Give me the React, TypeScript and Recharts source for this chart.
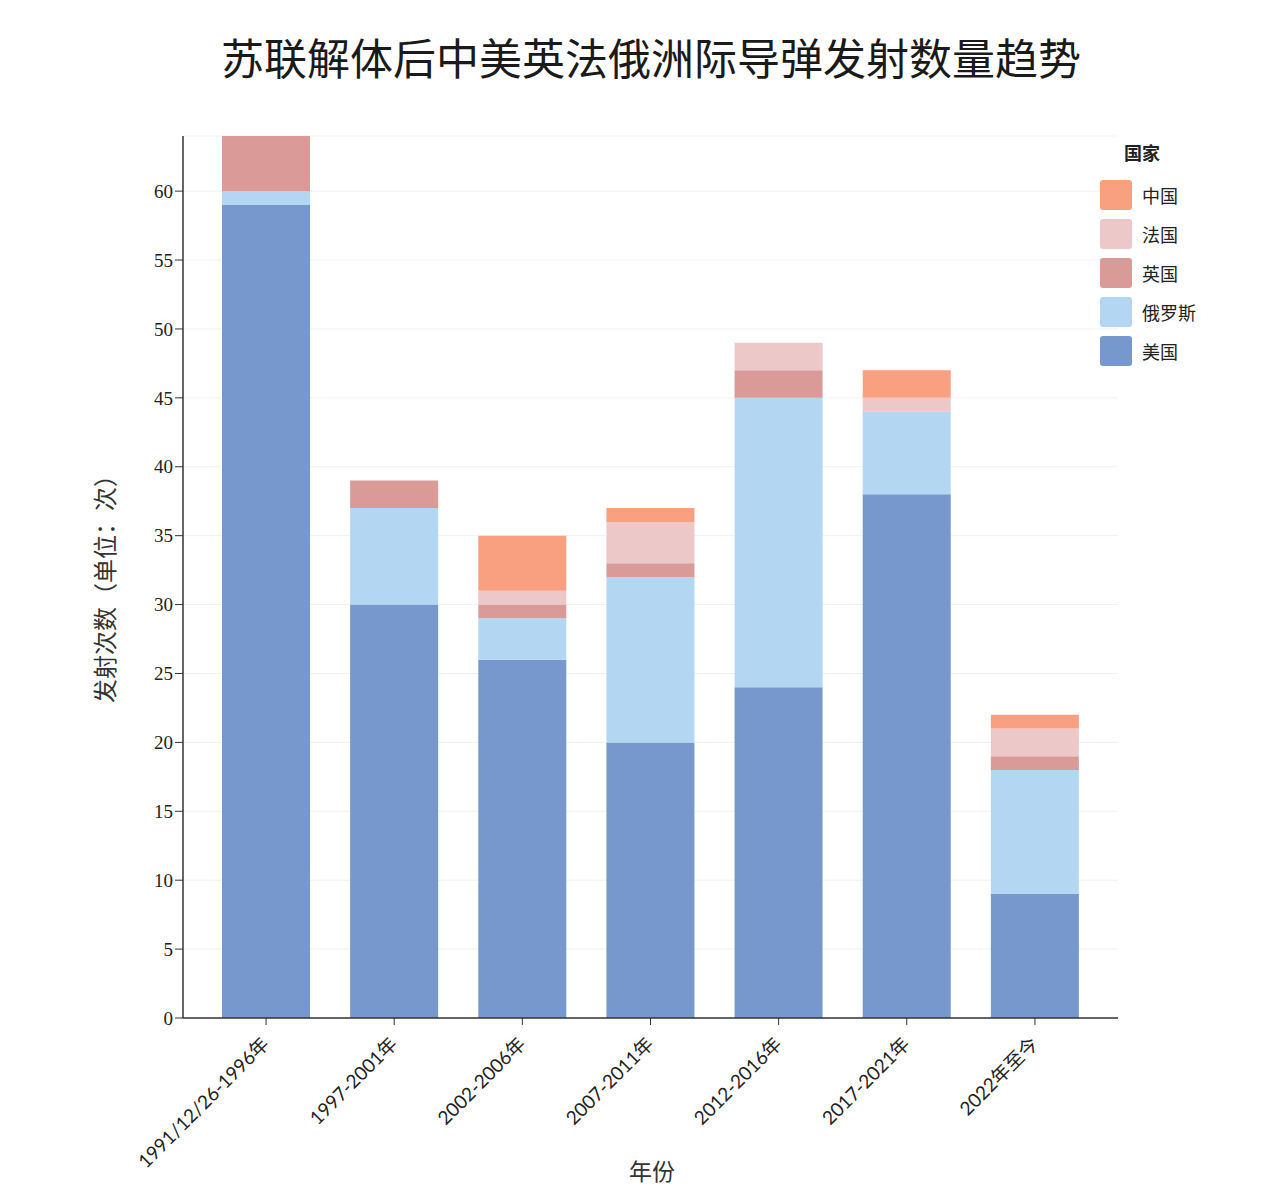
import React from "react";
import { Bar, BarChart, CartesianGrid, XAxis, YAxis } from "recharts";

// 各时期导弹发射次数
const periods = [
  "1991/12/26-1996年",
  "1997-2001年",
  "2002-2006年",
  "2007-2011年",
  "2012-2016年",
  "2017-2021年",
  "2022年至今",
];
const usa = [59, 30, 26, 20, 24, 38, 9];
const russia = [1, 7, 3, 12, 21, 6, 9];
const uk = [4, 2, 1, 1, 2, 0, 1];
const france = [0, 0, 1, 3, 2, 1, 2];
const china = [0, 0, 4, 1, 0, 2, 1];
const yTicks = [0, 5, 10, 15, 20, 25, 30, 35, 40, 45, 50, 55, 60];

const series = [
  { key: "美国", values: usa, color: "#7698cc" },
  { key: "俄罗斯", values: russia, color: "#b3d6f3" },
  { key: "英国", values: uk, color: "#d99a98" },
  { key: "法国", values: france, color: "#ecc8c8" },
  { key: "中国", values: china, color: "#f8a07f" },
];

const data = periods.map((name, i) => {
  const row: Record<string, any> = { name };
  series.forEach((s) => (row[s.key] = s.values[i]));
  return row;
});

const cjk = '"Noto Sans CJK SC", "Noto Sans", sans-serif';

function XTick(props: any) {
  const { x, y, payload } = props;
  return (
    <g transform={`translate(${x},${y + 14})`}>
      <text
        textAnchor="end"
        transform="rotate(-45)"
        fontSize={19}
        fill="#222"
        fontFamily={'Lato, "Noto Sans CJK SC", sans-serif'}
        dy={6}
      >
        {payload.value}
      </text>
    </g>
  );
}

export default function App() {
  return (
    <div
      style={{
        position: "absolute",
        left: 0,
        top: 0,
        width: 1280,
        height: 1202,
        background: "#fff",
        fontFamily: cjk,
      }}
    >
      <div
        style={{
          position: "absolute",
          top: 25,
          left: 0,
          width: 1302,
          textAlign: "center",
          fontSize: 43,
          color: "#1a1a1a",
        }}
      >
        苏联解体后中美英法俄洲际导弹发射数量趋势
      </div>
      <div
        style={{
          position: "absolute",
          left: 103,
          top: 583,
          transform: "translate(-50%,-50%) rotate(-90deg)",
          fontSize: 24,
          color: "#333",
          whiteSpace: "nowrap",
        }}
      >
        发射次数（单位：次）
      </div>
      <div
        style={{
          position: "absolute",
          left: 652,
          top: 1170,
          transform: "translate(-50%,-50%)",
          fontSize: 23,
          color: "#333",
        }}
      >
        年份
      </div>
      <BarChart
        width={1280}
        height={1202}
        data={data}
        margin={{ top: 136, right: 162, bottom: 64, left: 123 }}
        barSize={88}
      >
        <CartesianGrid vertical={false} stroke="#eef1f6" />
        <XAxis
          dataKey="name"
          height={120}
          interval={0}
          padding={{ left: 19, right: 19 }}
          tick={<XTick />}
          tickLine={{ stroke: "#333" }}
          axisLine={{ stroke: "#333", strokeWidth: 1.5 }}
          tickSize={7}
        />
        <YAxis
          width={60}
          domain={[0, 64]}
          ticks={yTicks}
          allowDataOverflow
          tick={{ fontSize: 19, fill: "#222", fontFamily: '"Liberation Serif", serif' }}
          tickLine={{ stroke: "#333" }}
          axisLine={{ stroke: "#333", strokeWidth: 1.5 }}
          tickSize={8}
        />
        {series.map((s) => (
          <Bar
            key={s.key}
            dataKey={s.key}
            stackId="a"
            fill={s.color}
            isAnimationActive={false}
          />
        ))}
      </BarChart>
      <div style={{ position: "absolute", left: 1100, top: 139 }}>
        <div
          style={{
            fontWeight: "bold",
            fontSize: 18,
            color: "#222",
            marginLeft: 24,
            height: 36,
          }}
        >
          国家
        </div>
        {[...series].reverse().map((s) => (
          <div
            key={s.key}
            style={{ display: "flex", alignItems: "center", height: 39 }}
          >
            <div
              style={{
                width: 32,
                height: 30,
                background: s.color,
                borderRadius: 3,
              }}
            />
            <span style={{ marginLeft: 10, fontSize: 18, color: "#222" }}>
              {s.key}
            </span>
          </div>
        ))}
      </div>
    </div>
  );
}
